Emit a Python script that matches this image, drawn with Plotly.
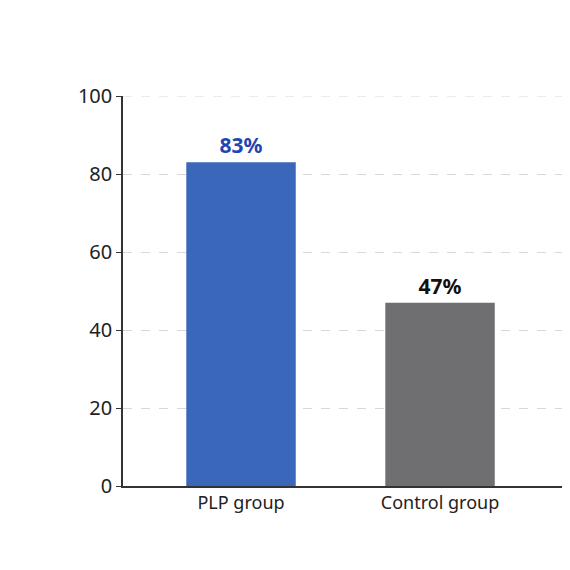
import plotly.graph_objects as go

categories = ["PLP group", "Control group"]
values = [83, 47]
labels = ["<b>83%</b>", "<b>47%</b>"]
bar_colors = ["#3a67ba", "#6f6f71"]
label_colors = ["#1f45b0", "#111111"]
y_ticks = [0, 20, 40, 60, 80, 100]

fig = go.Figure()
fig.add_trace(go.Bar(
    x=[0, 1], y=values, width=0.55,
    marker=dict(color=bar_colors, line=dict(width=0)),
    text=labels, textposition="outside", cliponaxis=False,
    textfont=dict(size=21, color=label_colors, family="Noto Sans"),
))
fig.add_shape(type="line", xref="paper", yref="y", x0=0, x1=1, y0=y_ticks[-1], y1=y_ticks[-1],
              line=dict(color="#d8d8d8", width=1, dash="dash"))
fig.update_layout(
    width=570, height=570, plot_bgcolor="white", paper_bgcolor="white",
    margin=dict(l=115, r=10, t=88, b=92, autoexpand=False), showlegend=False,
    font=dict(family="Noto Sans", color="#222222"),
    xaxis=dict(range=[-0.593, 1.643], tickvals=[0, 1], ticktext=categories, automargin=False,
               showline=True, linecolor="#333333", linewidth=1.5,
               showgrid=False, tickfont=dict(size=18), ticks=""),
    yaxis=dict(range=[0, 100], tickvals=y_ticks, showline=True, linecolor="#333333", automargin=False,
               linewidth=1.5, ticks="outside", ticklen=5, tickcolor="#333333",
               showgrid=True, gridcolor="#d8d8d8", griddash="dash", gridwidth=1,
               tickfont=dict(size=20), zeroline=False),
)
fig.write_html("out.html")
